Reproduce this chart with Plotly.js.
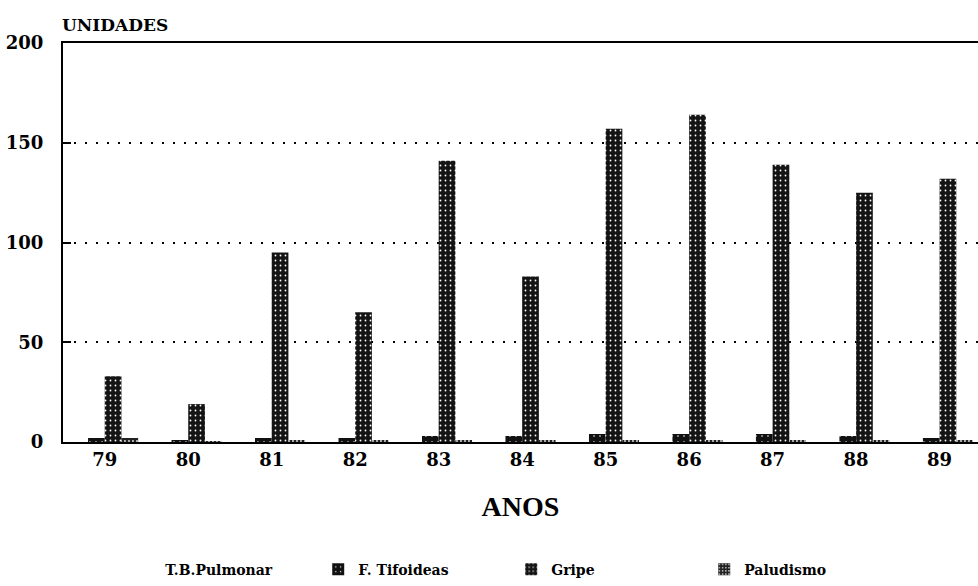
<!DOCTYPE html>
<html>
<head>
<meta charset="utf-8">
<script src="https://cdn.plot.ly/plotly-3.0.1.min.js"></script>
<style>html,body{margin:0;padding:0;background:#fff;overflow:hidden}#chart{width:978px;height:586px}</style>
</head>
<body>
<div id="chart"></div>
<script>
const anos = ['79','80','81','82','83','84','85','86','87','88','89'];
const tbPulmonar = [2, 1, 2, 2, 2, 2, 2, 2, 2, 2, 2];
const fTifoideas = [2, 1, 2, 2, 3, 3, 4, 4, 4, 3, 2];
const gripe = [33, 19, 95, 65, 141, 83, 157, 164, 139, 125, 132];
const paludismo = [2, 0.5, 1, 1, 1, 1, 1, 1, 1, 1, 1];
const seriesNames = ['T.B.Pulmonar', 'F. Tifoideas', 'Gripe', 'Paludismo'];

const serif = 'DejaVu Serif, Liberation Serif, serif';

const traces = [
  {type:'bar', name:seriesNames[0], x:anos, y:tbPulmonar,
   marker:{color:'#ffffff', line:{width:0}}},
  {type:'bar', name:seriesNames[1], x:anos, y:fTifoideas,
   marker:{color:'#111111', line:{width:0},
     pattern:{shape:'.', bgcolor:'#111111', fgcolor:'#ffffff', size:6, solidity:0.06, fillmode:'replace'}}},
  {type:'bar', name:seriesNames[2], x:anos, y:gripe,
   marker:{color:'#141414', line:{width:0},
     pattern:{shape:'.', bgcolor:'#141414', fgcolor:'#ffffff', size:5, solidity:0.1, fillmode:'replace'}}},
  {type:'bar', name:seriesNames[3], x:anos, y:paludismo,
   marker:{color:'#222222', line:{width:0},
     pattern:{shape:'.', bgcolor:'#222222', fgcolor:'#dddddd', size:4, solidity:0.18, fillmode:'replace'}}}
];

const layout = {
  width:978, height:586,
  margin:{l:63, r:0, t:43, b:141},
  paper_bgcolor:'#ffffff', plot_bgcolor:'#ffffff',
  barmode:'group', bargap:0.2, bargroupgap:0,
  showlegend:true,
  legend:{orientation:'h', x:0.068, xanchor:'left', y:-0.32, yanchor:'middle',
    entrywidth:148, entrywidthmode:'pixels', traceorder:'normal',
    font:{family:serif, size:14, color:'#000', weight:'bold'}},
  xaxis:{type:'category', range:[-0.5, 10.46], showline:true, linecolor:'#000', linewidth:2,
    mirror:true, ticks:'', showgrid:false, zeroline:false,
    tickfont:{family:serif, size:18, color:'#000', weight:'bold'},
    title:{text:'ANOS', standoff:28, font:{family:'Liberation Serif, serif', size:28, color:'#000', weight:'bold'}}},
  yaxis:{range:[0,200], tickvals:[0,50,100,150,200], showline:true, linecolor:'#000', linewidth:2,
    ticks:'inside', ticklen:8, tickwidth:2, tickcolor:'#000', ticklabelstandoff:14,
    showgrid:true, gridcolor:'#000', gridwidth:2, griddash:'2px,9px', zeroline:false,
    tickfont:{family:serif, size:18, color:'#000', weight:'bold'}},
  annotations:[{text:'UNIDADES', xref:'paper', yref:'paper', x:0, y:1, xanchor:'left', yanchor:'bottom',
    xshift:-3, yshift:6, showarrow:false, font:{family:serif, size:17, color:'#000', weight:'bold'}}]
};

Plotly.newPlot('chart', traces, layout, {displayModeBar:false, staticPlot:true});
</script>
</body>
</html>
